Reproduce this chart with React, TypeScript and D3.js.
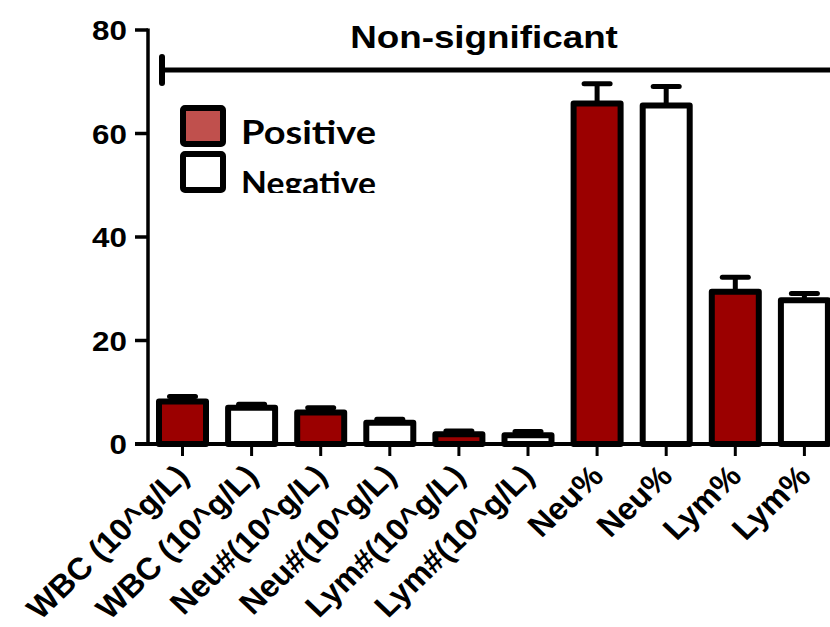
import React from "react";
import * as d3 from "d3";

const groupNames = ["WBC (10^g/L)", "Neu#(10^g/L)", "Lym#(10^g/L)", "Neu%", "Lym%"];
const seriesNames = ["Positive", "Negative"];
const positiveMeans = [8.2, 6.1, 1.9, 65.8, 29.4];
const positiveErrors = [1.0, 0.9, 0.6, 3.8, 2.8];
const negativeMeans = [7.0, 4.1, 1.7, 65.4, 27.8];
const negativeErrors = [0.7, 0.7, 0.7, 3.7, 1.3];
const yTicks = [0, 20, 40, 60, 80];
const annotationText = "Non-significant";

const W = 830;
const H = 627;
const SX = 1.12; // horizontal stretch of the original picture

type Bar = { key: string; label: string; series: string; value: number; err: number };

const bars: Bar[] = [];
groupNames.forEach((g, i) => {
  bars.push({ key: `${i}-p`, label: g, series: seriesNames[0], value: positiveMeans[i], err: positiveErrors[i] });
  bars.push({ key: `${i}-n`, label: g, series: seriesNames[1], value: negativeMeans[i], err: negativeErrors[i] });
});

const fillFor: Record<string, string> = { Positive: "#9b0000", Negative: "#ffffff" };
const legendFill: Record<string, string> = { Positive: "#c0504d", Negative: "#ffffff" };

export default function App() {
  const axisX = 148;
  const y = d3.scaleLinear().domain([0, 80]).range([444, 30]);
  const step = 69.1;
  const firstCenter = 182.5;
  const x = d3
    .scaleBand<string>()
    .domain(bars.map((b) => b.key))
    .range([firstCenter - step / 2, firstCenter - step / 2 + step * bars.length])
    .padding(0);
  const cx = (k: string) => (x(k) as number) + x.bandwidth() / 2;
  const barW = 47;
  const capHalf = 13;
  const font = "'Liberation Sans', Arial, sans-serif";

  return (
    <svg
      width={W}
      height={H}
      viewBox={`0 0 ${W} ${H}`}
      style={{ position: "absolute", left: 0, top: 0, background: "#fff" }}
    >
      <defs>
        <clipPath id="legendClip">
          <rect x={160} y={95} width={260} height={98} />
        </clipPath>
      </defs>

      {/* bars */}
      {bars.map((b) => (
        <g key={b.key}>
          <line
            x1={cx(b.key)}
            x2={cx(b.key)}
            y1={y(b.value)}
            y2={y(b.value + b.err)}
            stroke="#000"
            strokeWidth={5}
          />
          <line
            x1={cx(b.key) - capHalf}
            x2={cx(b.key) + capHalf}
            y1={y(b.value + b.err)}
            y2={y(b.value + b.err)}
            stroke="#000"
            strokeWidth={5}
            strokeLinecap="round"
          />
          <rect
            x={cx(b.key) - barW / 2}
            y={y(b.value)}
            width={barW}
            height={y(0) - y(b.value)}
            fill={fillFor[b.series]}
            stroke="#000"
            strokeWidth={6}
            strokeLinejoin="round"
          />
        </g>
      ))}

      {/* y axis */}
      <line x1={axisX} x2={axisX} y1={y(80) - 1.5} y2={y(0)} stroke="#000" strokeWidth={3.5} />
      {yTicks.map((t) => (
        <g key={t}>
          <line x1={axisX - 13} x2={axisX} y1={y(t)} y2={y(t)} stroke="#000" strokeWidth={3.5} />
          <text
            transform={`translate(127,${y(t) + 10}) scale(${SX},1)`}
            textAnchor="end"
            fontFamily={font}
            fontWeight="bold"
            fontSize={28}
            fill="#000"
          >
            {t}
          </text>
        </g>
      ))}

      {/* x axis */}
      <line x1={axisX - 13} x2={W} y1={y(0)} y2={y(0)} stroke="#000" strokeWidth={4} />
      {bars.map((b) => (
        <g key={`t-${b.key}`}>
          <line x1={cx(b.key)} x2={cx(b.key)} y1={y(0)} y2={y(0) + 12} stroke="#000" strokeWidth={3} />
          <text
            transform={`translate(${cx(b.key) + 8},${y(0) + 34}) scale(1.05,1) rotate(-45)`}
            textAnchor="end"
            fontFamily={font}
            fontWeight="bold"
            fontSize={31}
            fill="#000"
          >
            {b.label}
          </text>
        </g>
      ))}

      {/* significance bracket */}
      <line x1={162} x2={W} y1={70} y2={70} stroke="#000" strokeWidth={5} />
      <line x1={162} x2={162} y1={57} y2={83} stroke="#000" strokeWidth={6} strokeLinecap="round" />
      <text
        transform={`translate(484,48) scale(1.15,1)`}
        textAnchor="middle"
        fontFamily={font}
        fontWeight="bold"
        fontSize={32}
        fill="#000"
      >
        {annotationText}
      </text>

      {/* legend */}
      <g clipPath="url(#legendClip)">
        {seriesNames.map((s, i) => (
          <g key={s}>
            <rect
              x={183}
              y={108 + i * 46}
              width={40}
              height={36}
              rx={2}
              fill={legendFill[s]}
              stroke="#000"
              strokeWidth={6}
            />
            <text
              x={241}
              y={144 + i * 51}
              fontFamily="Lato, 'Open Sans', sans-serif"
              fontWeight="bold"
              fontSize={33}
              textLength={135}
              lengthAdjust="spacingAndGlyphs"
              fill="#000"
            >
              {s}
            </text>
          </g>
        ))}
      </g>
    </svg>
  );
}
